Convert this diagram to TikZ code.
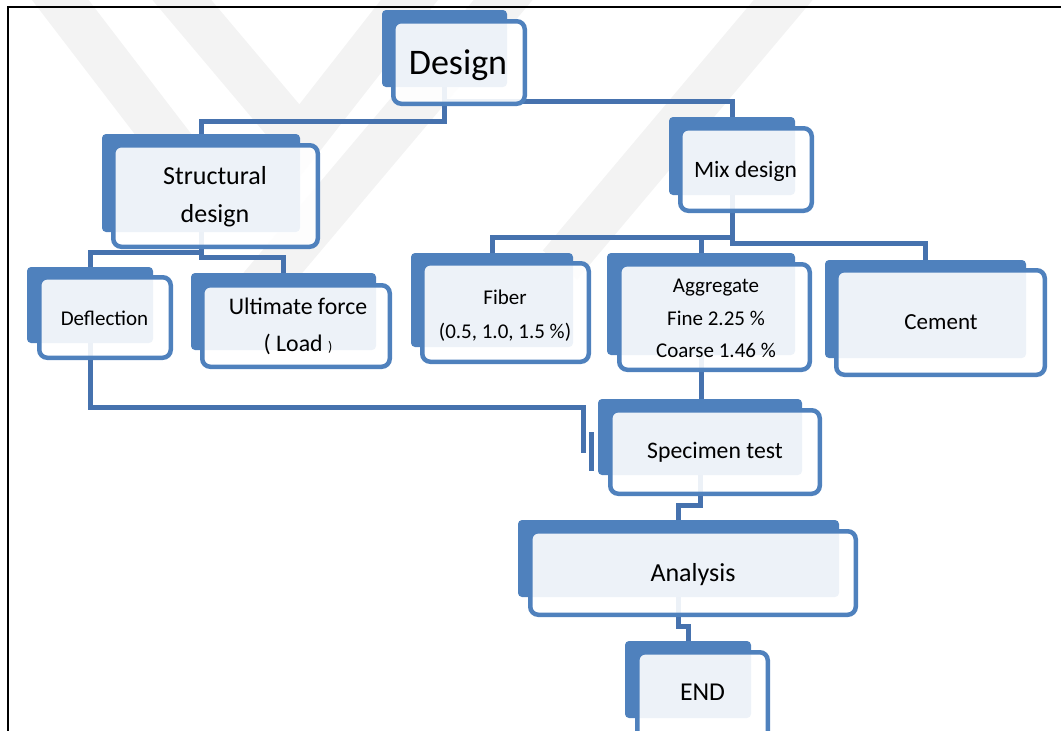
\documentclass[tikz,border=0pt]{standalone}
\usepackage{fontspec}
\setmainfont{Carlito}
\usetikzlibrary{backgrounds}
\definecolor{boxblue}{RGB}{79,129,189}
\definecolor{connblue}{RGB}{70,114,174}
\definecolor{wm}{RGB}{243,243,243}
\pgfdeclarelayer{wmlayer}
\pgfdeclarelayer{connlayer}
\pgfsetlayers{wmlayer,connlayer,main}
\begin{document}
\begin{tikzpicture}[x=1pt,y=-1pt,
  backbox/.style={fill=boxblue, rounded corners=4, inner sep=0, outer sep=0},
  frontbox/.style={draw=boxblue, line width=4.5, fill=white, fill opacity=0.9, rounded corners=8, inner sep=0, outer sep=0},
  conn/.style={draw=connblue, line width=5},
  lbl/.style={inner sep=0, align=center, text=black},
  wmark/.style={draw=wm, line width=45}]
\useasboundingbox (0,0) rectangle (1061,731);
\clip (0,0) rectangle (1061,731);

% boxes
\node[backbox, minimum width=125, minimum height=77] (designB) at (444.5,48.5) {};
\node[frontbox, minimum width=131.5, minimum height=82.5] (designF) at (459,62.5) {};
\node[lbl, font=\fontsize{36}{40}\selectfont] (design) at (458,65) {Design};

\node[backbox, minimum width=198, minimum height=98] (structB) at (201,183) {};
\node[frontbox, minimum width=204.5, minimum height=101.5] (structF) at (215.5,196) {};
\node[lbl, font=\fontsize{26}{38}\selectfont] (struct) at (215,197) {Structural\\design};

\node[backbox, minimum width=126, minimum height=78] (mixB) at (732,156) {};
\node[frontbox, minimum width=131.5, minimum height=82.5] (mixF) at (746,169.5) {};
\node[lbl, font=\fontsize{23.5}{28}\selectfont] (mix) at (745.5,171) {Mix design};

\node[backbox, minimum width=126, minimum height=76] (deflB) at (90,305) {};
\node[frontbox, minimum width=131.5, minimum height=80.5] (deflF) at (105,317.5) {};
\node[lbl, font=\fontsize{21}{25}\selectfont] (defl) at (104.5,318.3) {Deflection};

\node[backbox, minimum width=185, minimum height=77] (ultB) at (283.5,311.5) {};
\node[frontbox, minimum width=187.5, minimum height=81.5] (ultF) at (296,326) {};
\node[lbl, font=\fontsize{23.8}{36.7}\selectfont] (ult) at (298,326.3) {Ultimate force\\( Load {\fontsize{14}{14}\selectfont )}};

\node[backbox, minimum width=162, minimum height=94] (fiberB) at (492,300) {};
\node[frontbox, minimum width=166.5, minimum height=98.5] (fiberF) at (505.5,312.5) {};
\node[lbl, font=\fontsize{21}{34}\selectfont] (fiber) at (505,315.5) {Fiber\\(0.5, 1.0, 1.5 \%)};

\node[backbox, minimum width=188, minimum height=102] (aggB) at (701,304) {};
\node[frontbox, minimum width=190.5, minimum height=105.5] (aggF) at (714.5,317) {};
\node[lbl, font=\fontsize{21}{32.5}\selectfont] (agg) at (716,318.5) {Aggregate\\Fine 2.25 \%\\Coarse 1.46 \%};

\node[backbox, minimum width=201, minimum height=98] (cemB) at (925.5,309) {};
\node[frontbox, minimum width=208.5, minimum height=104.5] (cemF) at (940.5,322.5) {};
\node[lbl, font=\fontsize{23}{28}\selectfont] (cem) at (941,321.8) {Cement};

\node[backbox, minimum width=204, minimum height=76] (specB) at (700,437) {};
\node[frontbox, minimum width=209.5, minimum height=83.5] (specF) at (715,452) {};
\node[lbl, font=\fontsize{23.7}{28}\selectfont] (spec) at (715,452) {Specimen test};

\node[backbox, minimum width=321, minimum height=77] (analB) at (678.5,558.5) {};
\node[frontbox, minimum width=325.5, minimum height=83.5] (analF) at (693,573) {};
\node[lbl, font=\fontsize{26}{30}\selectfont] (anal) at (693,574.5) {Analysis};

\node[backbox, minimum width=126, minimum height=77] (endB) at (688,679.5) {};
\node[frontbox, minimum width=130.5, minimum height=105.5] (endF) at (702.5,705) {};
\node[lbl, font=\fontsize{25.7}{30}\selectfont] (end) at (702.5,692.7) {END};

\coordinate (specIn) at (583,453);
\coordinate (stubA) at (591,432);
\coordinate (stubB) at (591,471);

\begin{pgfonlayer}{wmlayer}
  \draw[wmark] (45,-20) -- (225,215);
  \draw[wmark] (165,-20) -- (300,140) -- (425,-20);
  \draw[wmark] (520,-20) -- (250,300);
  \draw[wmark] (800,-20) -- (560,265);
  \draw[black, line width=1.8] (8.3,740) -- (8.3,7) -- (1070,7);
\end{pgfonlayer}

\begin{pgfonlayer}{connlayer}
  \draw[conn] (designB.south) -- ++(0,34) -| (structB.north);
  \draw[conn] (designB.south) -- ++(0,14.7) -| (mixB.north);
  \draw[conn] (structB.south) -- ++(0,20) -| (deflB.north);
  \draw[conn] (structB.south) -- ++(0,25) -| (ultB.north);
  \draw[conn] (mixB.south) -- ++(0,42) -| (fiberB.north);
  \draw[conn] (mixB.south) -- ++(0,42) -| (aggB.north);
  \draw[conn] (mixB.south) -- ++(0,48) -| (cemB.north);
  \draw[conn] (aggB.south) -- (aggB.south |- specB.north);
  \draw[conn] (deflB.south) -- ++(0,64) -| (specIn);
  \draw[conn] (stubA) -- (stubB);
  \draw[conn] (specB.south) -- ++(0,30) -| (analB.north);
  \draw[conn] (analB.south) -- ++(0,29) -| (endB.north);
\end{pgfonlayer}
\end{tikzpicture}
\end{document}
